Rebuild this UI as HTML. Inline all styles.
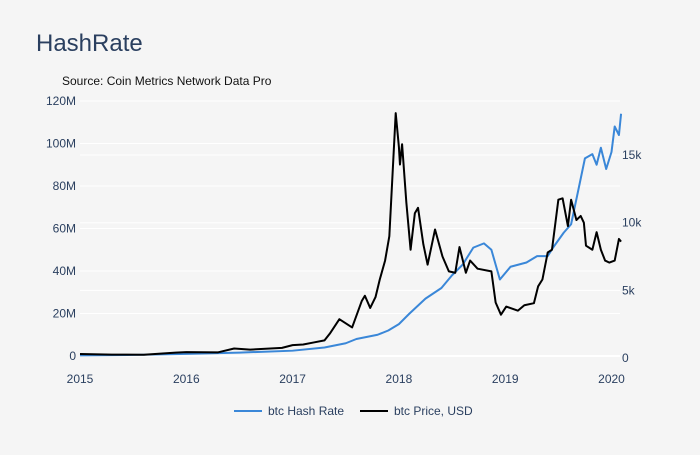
<!DOCTYPE html>
<html><head><meta charset="utf-8"><style>
body{margin:0;background:#f5f5f5;font-family:"Liberation Sans",sans-serif}
svg text{font-family:"Liberation Sans",sans-serif;fill:#2a3f5f}
</style></head><body>
<svg width="700" height="450">
<rect width="700" height="450" fill="#f5f5f5"/>
<text x="36" y="51" font-size="24">HashRate</text>
<text x="62" y="85" font-size="12" style="fill:#111">Source: Coin Metrics Network Data Pro</text>
<g id="grid"></g><g id="axes"></g><g id="series"></g>
<g>
<line x1="234" y1="411" x2="262" y2="411" stroke="#3a87d8" stroke-width="2"/>
<text x="268" y="415" font-size="12">btc Hash Rate</text>
<line x1="360" y1="411" x2="388" y2="411" stroke="#000" stroke-width="2"/>
<text x="394" y="415" font-size="12">btc Price, USD</text>
</g>
</svg>
<script>
const hashT=[2015,2015.5,2016,2016.5,2017,2017.3,2017.5,2017.6,2017.8,2017.9,2018,2018.1,2018.25,2018.4,2018.5,2018.6,2018.7,2018.8,2018.87,2018.95,2019.05,2019.2,2019.3,2019.4,2019.45,2019.55,2019.62,2019.7,2019.75,2019.82,2019.86,2019.9,2019.95,2020,2020.03,2020.07,2020.09];
const hashV=[0.3,0.5,1,1.6,2.5,4,6,8,10,12,15,20,27,32,38,43,51,53,50,36,42,44,47,47,51,58,62,81,93,95,90,98,88,96,108,104,114];
const priceT=[2015,2015.3,2015.6,2015.9,2016,2016.3,2016.45,2016.6,2016.9,2017,2017.1,2017.2,2017.3,2017.35,2017.44,2017.56,2017.65,2017.68,2017.73,2017.78,2017.82,2017.87,2017.91,2017.97,2018,2018.01,2018.03,2018.07,2018.11,2018.15,2018.18,2018.23,2018.27,2018.34,2018.41,2018.47,2018.53,2018.57,2018.63,2018.67,2018.74,2018.87,2018.91,2018.96,2019.01,2019.12,2019.18,2019.27,2019.31,2019.35,2019.4,2019.44,2019.5,2019.54,2019.59,2019.62,2019.67,2019.71,2019.74,2019.76,2019.82,2019.86,2019.9,2019.94,2019.98,2020.03,2020.07,2020.09];
const priceV=[300,250,240,400,430,420,700,620,750,950,1000,1150,1300,1800,2870,2260,4200,4600,3700,4500,5800,7200,9000,18100,15600,14300,15800,11500,8000,10700,11100,8400,6900,9500,7500,6400,6300,8200,6300,7200,6600,6400,4100,3200,3800,3500,3900,4050,5300,5800,7800,8000,11700,11800,9750,11700,10200,10500,10000,8300,8000,9300,8000,7200,7050,7200,8800,8600];
const yearTicks=[2015,2016,2017,2018,2019,2020];
const leftTicks=[0,20,40,60,80,100,120];
const rightTicks=[0,5000,10000,15000];
const rightLabels=["0","5k","10k","15k"];
const X=t=>80+(t-2015)*106.3, YL=v=>356-v*2.125, YR=p=>358-p*0.01353;
const NS="http://www.w3.org/2000/svg";
function mk(tag,attrs,parent,txt){const e=document.createElementNS(NS,tag);for(const k in attrs)e.setAttribute(k,attrs[k]);if(txt!==undefined)e.textContent=txt;document.getElementById(parent).appendChild(e);return e;}
leftTicks.forEach(v=>{
 const l=mk('line',{x1:80,x2:620,y1:YL(v),y2:YL(v),stroke:'#fff','stroke-width':v===0?2:1},'grid');
 
 
 const t=mk('text',{x:76,y:YL(v)+4,'font-size':12,'text-anchor':'end'},'axes',v===0?'0':v+'M');
 
 
});
rightTicks.forEach((v,i)=>{
 if(v>0){const l=mk('line',{x1:80,x2:620,y1:YR(v),y2:YR(v),stroke:'#fff','stroke-width':1},'grid');
 
 }
 const t=mk('text',{x:622,y:YR(v)+4,'font-size':12},'axes',rightLabels[i]);
 
 
});
yearTicks.forEach(y=>{
 const t=mk('text',{x:X(y),y:383,'font-size':12,'text-anchor':'middle'},'axes',String(y));
 
 
});
const hp=mk('polyline',{points:hashT.map((t,i)=>X(t)+','+YL(hashV[i])).join(' '),fill:'none',stroke:'#3a87d8','stroke-width':2,'stroke-linejoin':'round'},'series');


const pp=mk('polyline',{points:priceT.map((t,i)=>X(t)+','+YR(priceV[i])).join(' '),fill:'none',stroke:'#000','stroke-width':2,'stroke-linejoin':'round'},'series');


</script>
</body></html>
